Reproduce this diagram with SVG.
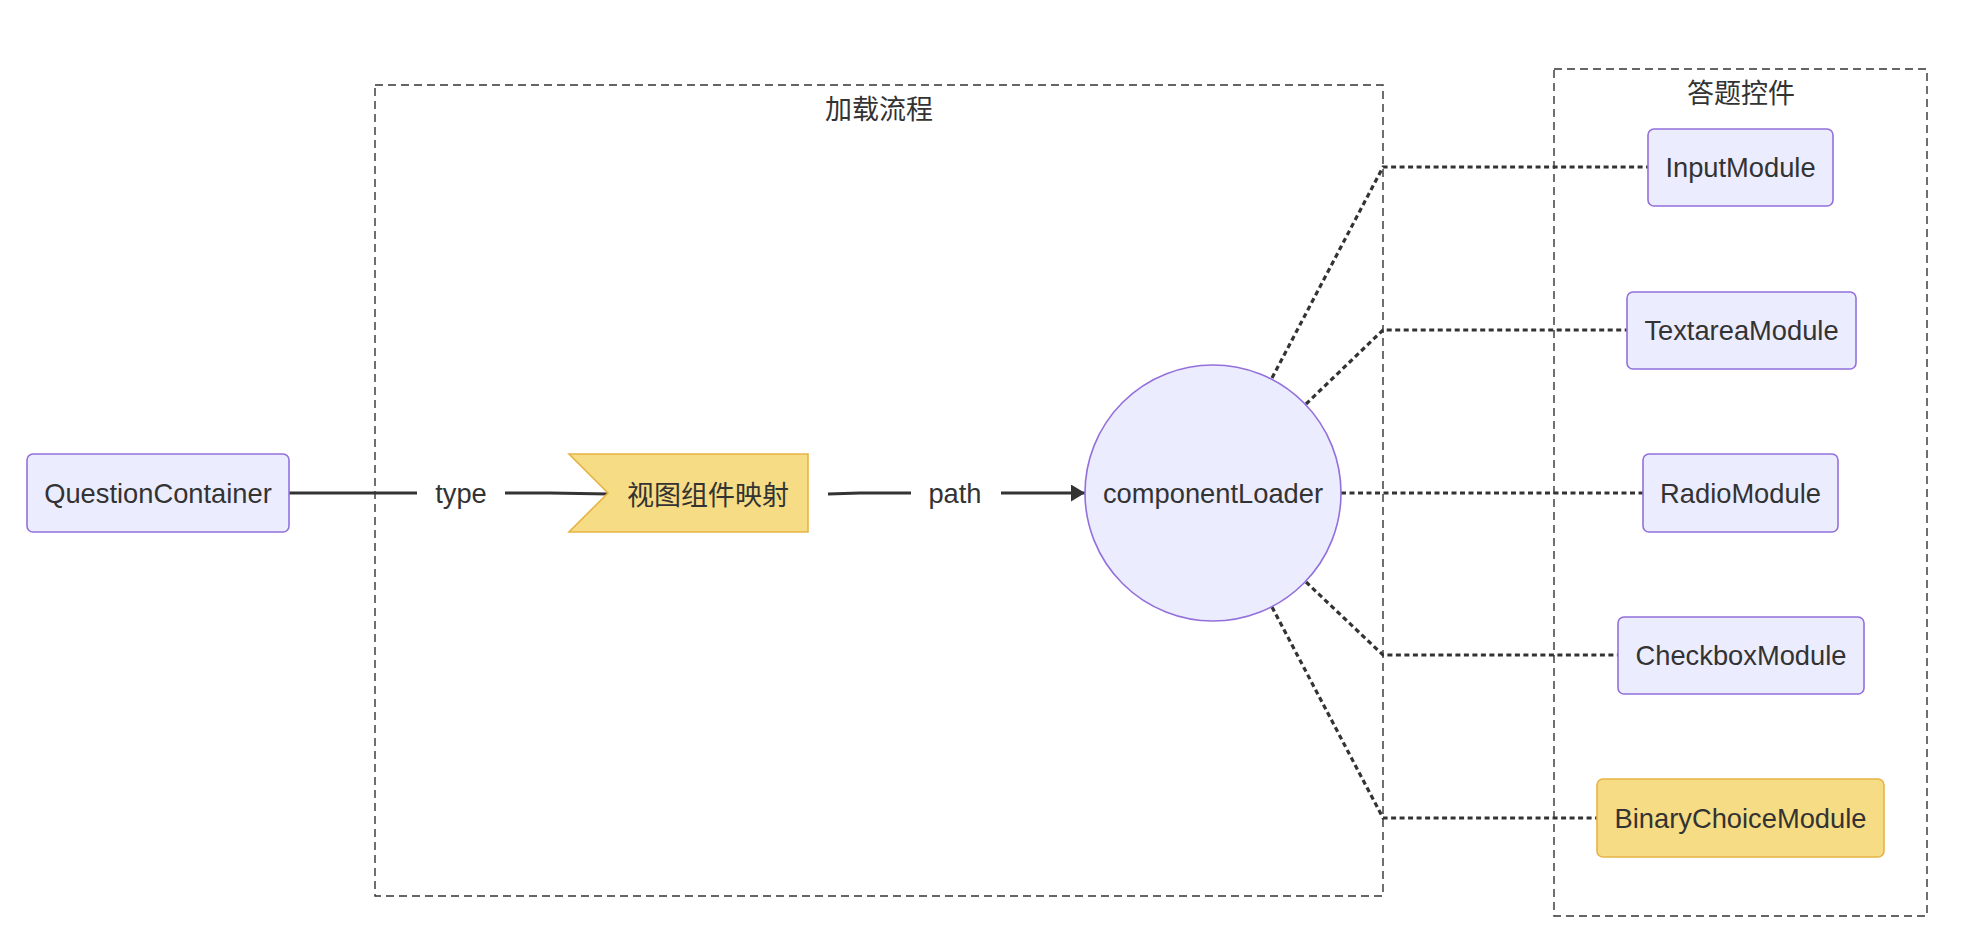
<svg xmlns="http://www.w3.org/2000/svg" width="1962" height="952" viewBox="0 0 1962 952">
<style>
.cluster{fill:#ffffff;stroke:#333333;stroke-width:1.4;stroke-dasharray:8 5}
.node{fill:#ECECFF;stroke:#9370DB;stroke-width:1.6}
.hl{fill:#F6DC84;stroke:#E6B444;stroke-width:1.6}
.lbl{font-family:"Liberation Sans",Arial,"Noto Sans CJK SC",sans-serif;font-size:27.3px;fill:#333333;text-anchor:middle;dominant-baseline:central}
.cjk{font-family:"Noto Sans CJK SC","Liberation Sans",sans-serif;font-size:27px;fill:#333333;text-anchor:middle;dominant-baseline:central}
.solid{fill:none;stroke:#333333;stroke-width:2.8}
.dot{fill:none;stroke:#333333;stroke-width:3.2;stroke-dasharray:5 3.5}
</style>
<defs>
<marker id="arrow" viewBox="0 0 14 17" refX="14" refY="8.5" markerWidth="14" markerHeight="17" markerUnits="userSpaceOnUse" orient="auto">
<path d="M0,0 L14,8.5 L0,17 z" fill="#333333"/>
</marker>
</defs>
<rect width="1962" height="952" fill="#ffffff"/>
<g id="cluster-load">
<rect class="cluster" x="375" y="85" width="1008" height="811"/>
<text class="cjk" x="879" y="107">加载流程</text>
</g>
<g id="cluster-controls">
<rect class="cluster" x="1554" y="69" width="373" height="847"/>
<text class="cjk" x="1741" y="91">答题控件</text>
</g>
<g id="edges">
<path class="solid" d="M289,493 L417,493"/>
<path class="solid" d="M505,493 L550,493 L609,494"/>
<path class="solid" d="M828,494 L860,493 L911,493"/>
<path class="solid" d="M1001,493 L1085,493" marker-end="url(#arrow)"/>
<path class="dot" d="M1272,378 L1383,167 L1648,167"/>
<path class="dot" d="M1306,404 L1383,330 L1627,330"/>
<path class="dot" d="M1341,493 L1643,493"/>
<path class="dot" d="M1306,582 L1383,655 L1618,655"/>
<path class="dot" d="M1272,607 L1383,818 L1597,818"/>
<text class="lbl" x="461" y="493">type</text>
<text class="lbl" x="955" y="493">path</text>
</g>
<g id="QuestionContainer">
<rect class="node" x="27" y="454" width="262" height="78" rx="6"/>
<text class="lbl" x="158" y="493">QuestionContainer</text>
</g>
<g id="viewMap">
<path class="hl" d="M569,454 L808,454 L808,532 L569,532 L608,493 Z"/>
<text class="cjk" x="708" y="493">视图组件映射</text>
</g>
<g id="componentLoader">
<circle class="node" cx="1213" cy="493" r="128"/>
<text class="lbl" x="1213" y="493">componentLoader</text>
</g>
<g id="InputModule">
<rect class="node" x="1648" y="129" width="185" height="77" rx="6"/>
<text class="lbl" x="1740.5" y="167">InputModule</text>
</g>
<g id="TextareaModule">
<rect class="node" x="1627" y="292" width="229" height="77" rx="6"/>
<text class="lbl" x="1741.5" y="330">TextareaModule</text>
</g>
<g id="RadioModule">
<rect class="node" x="1643" y="454" width="195" height="78" rx="6"/>
<text class="lbl" x="1740.5" y="493">RadioModule</text>
</g>
<g id="CheckboxModule">
<rect class="node" x="1618" y="617" width="246" height="77" rx="6"/>
<text class="lbl" x="1741" y="655">CheckboxModule</text>
</g>
<g id="BinaryChoiceModule">
<rect class="hl" x="1597" y="779" width="287" height="78" rx="6"/>
<text class="lbl" x="1740.5" y="818">BinaryChoiceModule</text>
</g>
</svg>
